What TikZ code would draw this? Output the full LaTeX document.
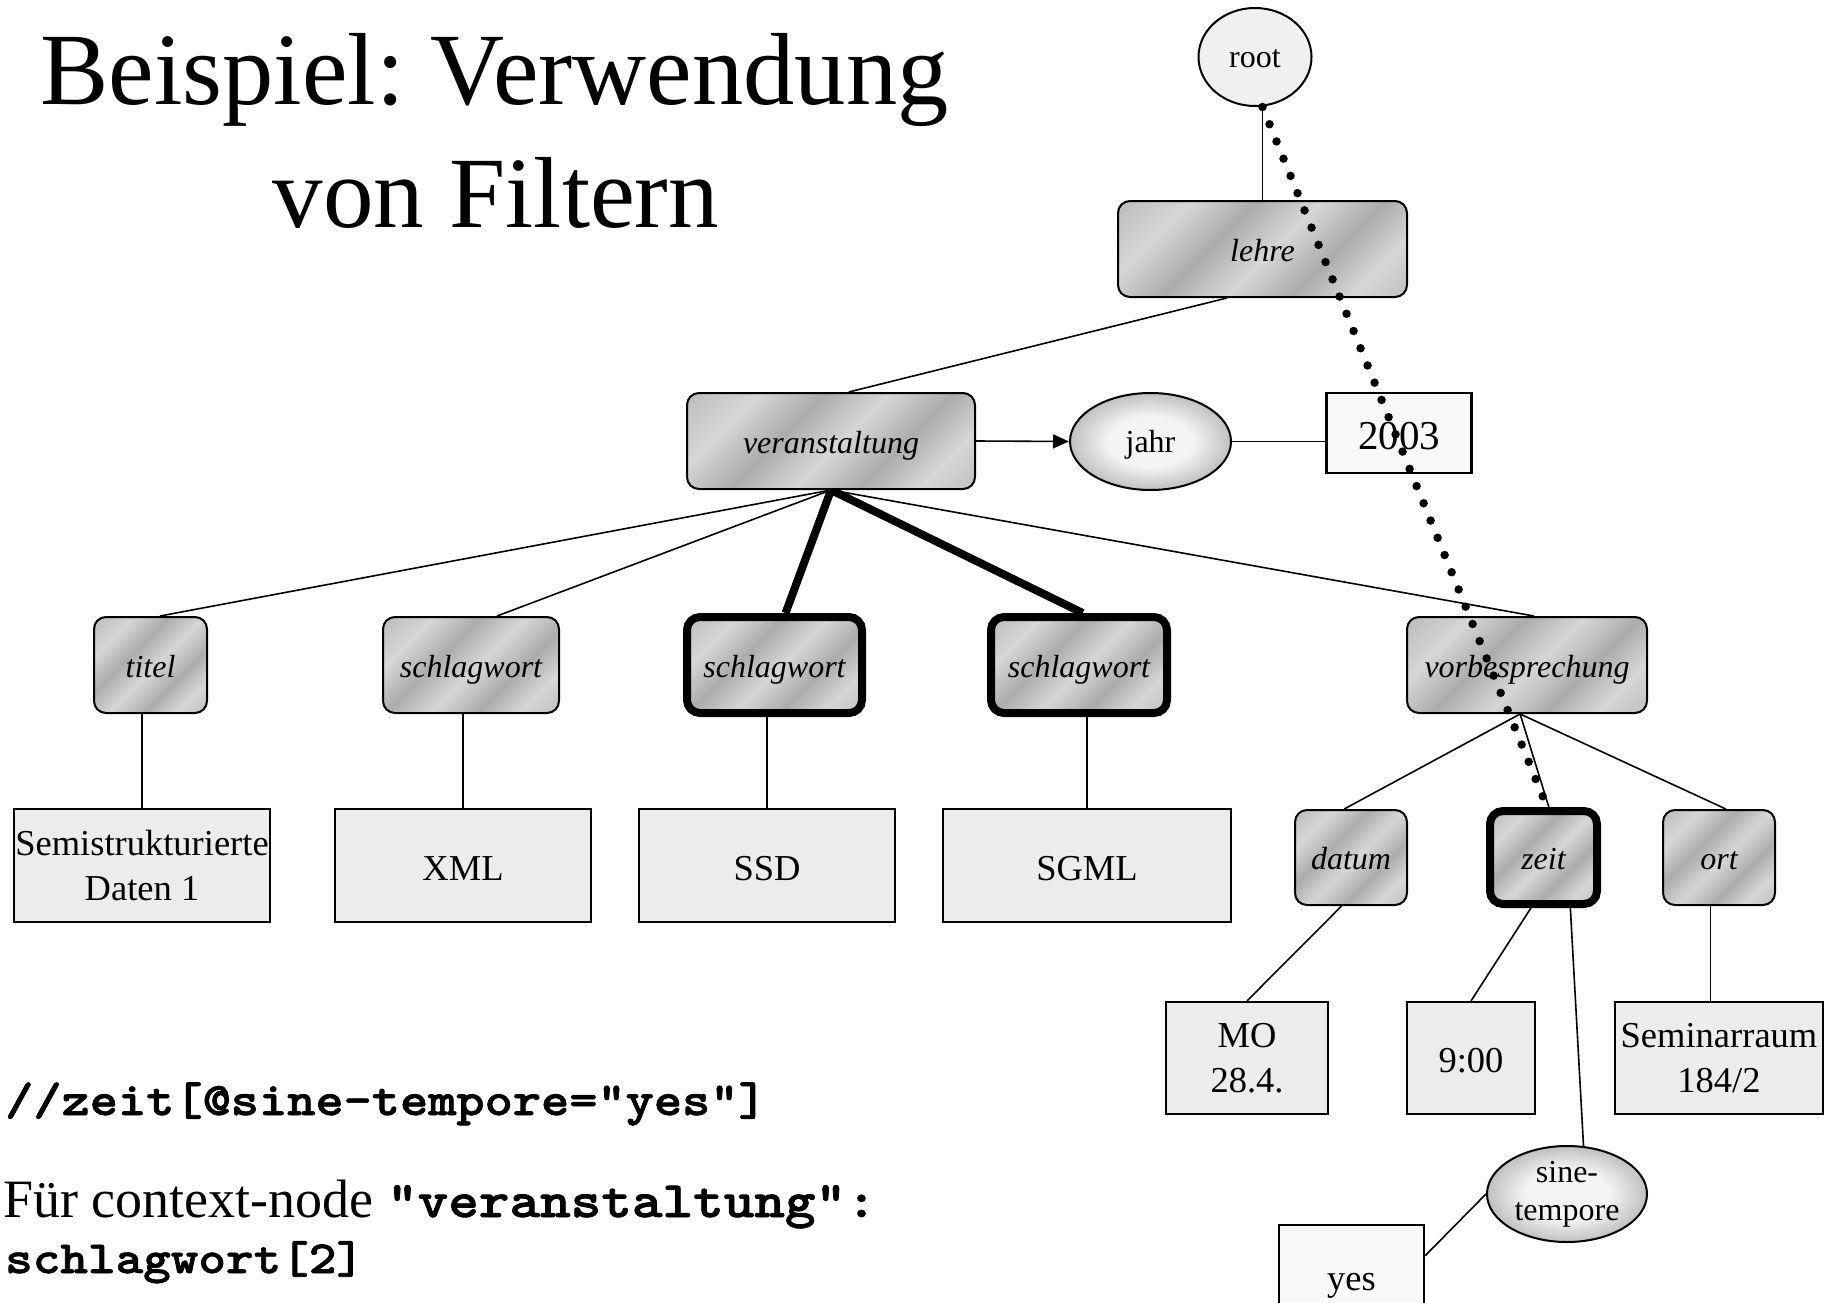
\documentclass[tikz,border=0pt]{standalone}
\usepackage{fontspec}
\setmainfont{Liberation Serif}
\setmonofont{Liberation Mono}
\newfontfamily\courbold{lmmonolt10-bold}[Extension=.otf, FakeStretch=1.143, FakeBold=1.5]
\usetikzlibrary{shapes.geometric,arrows.meta,backgrounds,calc}
\frenchspacing
\definecolor{mLight}{RGB}{214,214,214}
\definecolor{mMid}{RGB}{190,190,190}
\definecolor{mDark}{RGB}{172,172,172}
\definecolor{valfill}{RGB}{236,236,236}
\definecolor{paleA}{RGB}{248,248,248}
\definecolor{rootfill}{RGB}{240,240,240}
\definecolor{eIn}{RGB}{244,244,244}
\definecolor{eOut}{RGB}{192,192,192}
\pgfdeclarehorizontalshading{metal}{100bp}{color(0bp)=(mMid); color(16bp)=(mMid); color(28bp)=(mLight); color(40bp)=(mDark); color(52bp)=(mLight); color(64bp)=(mDark); color(75bp)=(mLight); color(86bp)=(mMid); color(100bp)=(mMid)}
\pgfdeclareradialshading{glow}{\pgfpoint{0bp}{0bp}}{color(0bp)=(eIn); color(13bp)=(eIn); color(25bp)=(eOut); color(50bp)=(eOut)}
\tikzset{
  elem/.style={rectangle, rounded corners=12pt, draw=black, line width=2pt, shade, shading=metal, shading angle=-45, minimum height=96pt, inner sep=0pt, font=\fontsize{32}{38}\selectfont\itshape, text height=24pt, text depth=0pt},
  boldelem/.style={elem, line width=8pt, rounded corners=13pt},
  valbox/.style={rectangle, draw=black, line width=2.2pt, fill=valfill, inner sep=0pt, minimum height=112pt, font=\fontsize{36.5}{45}\selectfont, align=center},
  oneline/.style={text height=29pt, text depth=0pt},
  ell/.style={ellipse, draw=black, line width=2pt, inner sep=0pt, font=\fontsize{32}{38}\selectfont},
  conn/.style={draw=black, line width=1.6pt},
  thickconn/.style={draw=black, line width=8pt},
  codefont/.style={anchor=base west, inner sep=0pt}
}
\begin{document}
\begin{tikzpicture}[x=1pt,y=-1pt]
\useasboundingbox (0,0) rectangle (1829,1303);
% title
\node[anchor=base, inner sep=0pt, font=\fontsize{102.5}{122}\selectfont] (t1) at (494.5,105) {Beispiel: Verwendung};
\node[anchor=base, inner sep=0pt, font=\fontsize{101}{122}\selectfont] (t2) at (496,227) {von Filtern};
% tree nodes
\node[ell, fill=rootfill, minimum width=113pt, minimum height=98pt, text height=22pt, text depth=0pt] (root) at (1255,57) {root};
\node[elem, minimum width=289pt] (lehre) at (1262.5,249) {lehre};
\node[elem, minimum width=288pt] (veran) at (831,441) {veranstaltung};
\node[ell, shade, shading=glow, minimum width=161pt, minimum height=97pt, text height=22pt, text depth=0pt] (jahr) at (1150.5,441.5) {jahr};
\node[rectangle, draw=black, line width=2.2pt, fill=paleA, inner sep=0pt, minimum width=145pt, minimum height=80pt, font=\fontsize{41}{45}\selectfont, text height=32pt, text depth=0pt] (y2003) at (1399,433) {2003};
\node[elem, minimum width=113pt] (titel) at (150.5,665) {titel};
\node[elem, minimum width=176pt] (schlagA) at (471,665) {schlagwort};
\node[boldelem, minimum width=175pt] (schlagB) at (774.5,665) {schlagwort};
\node[boldelem, minimum width=176pt] (schlagC) at (1079,665) {schlagwort};
\node[elem, minimum width=240pt] (vorb) at (1527,665) {vorbesprechung};
\node[valbox, minimum width=256pt, minimum height=113pt] (semi) at (142,865.5) {Semistrukturierte\\Daten 1};
\node[valbox, oneline, minimum width=256pt, minimum height=113pt] (xml) at (463,865.5) {XML};
\node[valbox, oneline, minimum width=256pt, minimum height=113pt] (ssd) at (767,865.5) {SSD};
\node[valbox, oneline, minimum width=288pt, minimum height=113pt] (sgml) at (1087,865.5) {SGML};
\node[elem, minimum width=112pt, minimum height=95pt] (datum) at (1351,857.5) {datum};
\node[boldelem, minimum width=107pt, minimum height=93pt] (zeit) at (1543.5,857.5) {zeit};
\node[elem, minimum width=112pt, minimum height=95pt] (ort) at (1719,857.5) {ort};
\node[valbox, minimum width=162pt] (mo) at (1247,1058) {MO\\28.4.};
\node[valbox, oneline, minimum width=128pt] (nine) at (1471,1058) {9:00};
\node[valbox, minimum width=208pt] (sem) at (1719,1058) {Seminarraum\\184/2};
\node[ell, shade, shading=glow, minimum width=160pt, minimum height=96pt,
      label={[font=\fontsize{32}{38}\selectfont, align=center, inner sep=0pt]center:sine-\\tempore}] (sine) at (1567,1194) {};
\node[valbox, oneline, fill=paleA, minimum width=145pt, minimum height=101pt] (yes) at (1351.5,1275.5) {yes};
% connectors
\begin{pgfonlayer}{background}
\fill[white] (0,0) rectangle (1829,1303);
\draw[conn] (lehre.north) -- (lehre.north |- root.south);
\draw[conn] (lehre.234) -- (veran.70.5);
\draw[conn, -{Triangle[length=16pt,width=14pt]}] (veran.east) -- (jahr.west);
\draw[conn] (jahr.east) -- (jahr.east -| y2003.west);
\draw[conn] (veran.south) -- (titel.79);
\draw[conn] (veran.south) -- (schlagA.62);
\draw[thickconn] (veran.south) -- (schlagB.78);
\draw[thickconn] (veran.south) -- (schlagC.86);
\draw[conn] (veran.south) -- (vorb.82);
\draw[conn] (semi.north) -- (semi.north |- titel.south);
\draw[conn] (xml.north) -- (xml.north |- schlagA.south);
\draw[conn] (ssd.north) -- (ssd.north |- schlagB.south);
\draw[conn] (sgml.north) -- (sgml.north |- schlagC.south);
\draw[conn] (vorb.262) -- (datum.98);
\draw[conn] (vorb.262) -- (zeit.84);
\draw[conn] (vorb.262) -- (ort.82);
\draw[conn] (datum.259) -- (mo.north);
\draw[conn] (zeit.256) -- (nine.north);
\draw[conn] (zeit.298) -- (sine.71.6);
\draw[conn] (ort.260) -- (ort.260 |- sem.north);
\draw[conn] (sine.west) -- (yes.15);
\end{pgfonlayer}
% dotted path
\draw[line width=8.5pt, line cap=round, dash pattern=on 0pt off 18.6pt] (lehre.north |- root.south) -- (zeit.86);
% code text
\node[codefont, font=\courbold\fontsize{47}{50}\selectfont] (q1) at (5,1115) {//zeit[@sine-tempore="yes"]};
\node[codefont, font=\fontsize{54}{60}\selectfont] (q2) at (3,1217) {Für context-node {\courbold\fontsize{51}{60}\selectfont "veranstaltung":}};
\node[codefont, font=\courbold\fontsize{46}{50}\selectfont] (q3) at (5,1273) {schlagwort[2]};
\end{tikzpicture}
\end{document}
